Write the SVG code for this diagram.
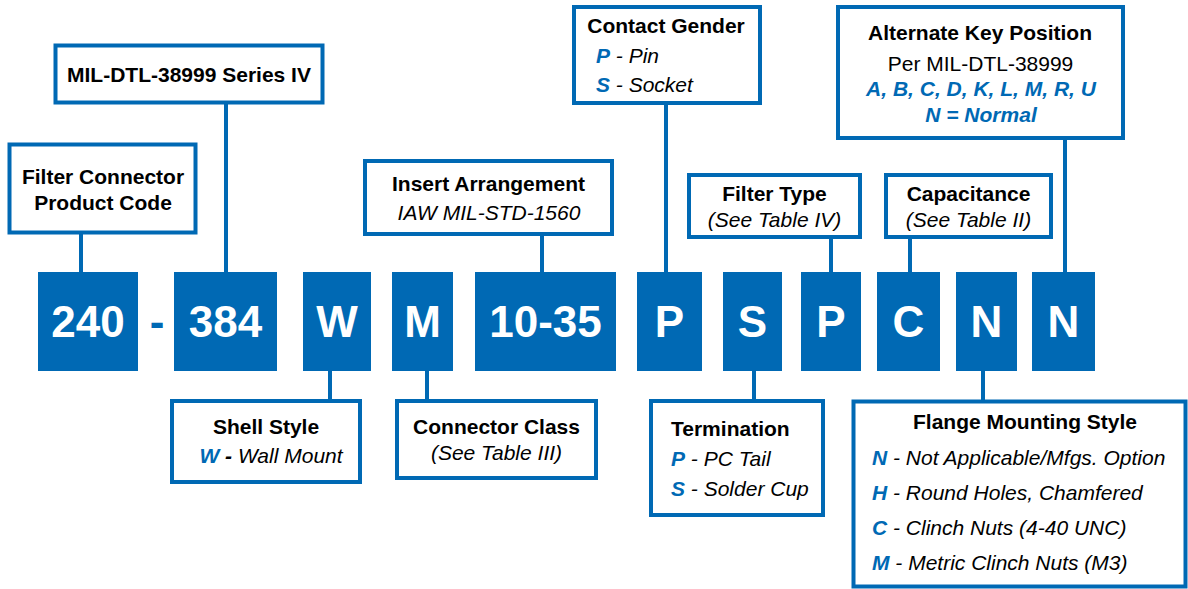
<svg xmlns="http://www.w3.org/2000/svg" width="1188" height="589" viewBox="0 0 1188 589">
<style>
text{font-family:"Liberation Sans",Arial,sans-serif;font-size:21px;fill:#000}
.box{fill:#fff;stroke:#0069B4;stroke-width:4}
.code{fill:#0069B4}
.ct{font-size:44px;font-weight:bold;fill:#fff;text-anchor:middle}
.b{font-weight:bold}
.i{font-style:italic}
.k{font-weight:bold;font-style:italic;fill:#0069B4}
.m{text-anchor:middle}
.conn line{stroke:#0069B4;stroke-width:4}
</style>
<rect width="1188" height="589" fill="#fff"/>
<g class="conn" id="connectors">
<line x1="81" y1="232" x2="81" y2="273"/>
<line x1="226" y1="102" x2="226" y2="273"/>
<line x1="542" y1="234" x2="542" y2="273"/>
<line x1="666" y1="103" x2="666" y2="273"/>
<line x1="831" y1="237" x2="831" y2="273"/>
<line x1="910" y1="237" x2="910" y2="273"/>
<line x1="1065" y1="138" x2="1065" y2="273"/>
<line x1="330" y1="370" x2="330" y2="401"/>
<line x1="427" y1="370" x2="427" y2="401"/>
<line x1="754" y1="370" x2="754" y2="401"/>
<line x1="983" y1="370" x2="983" y2="401"/>
</g>
<g id="code-240"><rect class="code" x="38" y="272" width="100" height="99"/><text class="ct" x="88" y="337">240</text></g>
<g id="code-dash"><text class="ct" x="157" y="337" style="fill:#0069B4">-</text></g>
<g id="code-384"><rect class="code" x="174" y="272" width="103" height="99"/><text class="ct" x="225.5" y="337">384</text></g>
<g id="code-W"><rect class="code" x="303" y="272" width="68" height="99"/><text class="ct" x="337" y="337">W</text></g>
<g id="code-M"><rect class="code" x="392" y="272" width="61" height="99"/><text class="ct" x="422.5" y="337">M</text></g>
<g id="code-1035"><rect class="code" x="475" y="272" width="141" height="99"/><text class="ct" x="545.5" y="337">10-35</text></g>
<g id="code-P1"><rect class="code" x="637" y="272" width="65" height="99"/><text class="ct" x="669.5" y="337">P</text></g>
<g id="code-S"><rect class="code" x="723" y="272" width="59" height="99"/><text class="ct" x="752.5" y="337">S</text></g>
<g id="code-P2"><rect class="code" x="801" y="272" width="60" height="99"/><text class="ct" x="831" y="337">P</text></g>
<g id="code-C"><rect class="code" x="877" y="272" width="63" height="99"/><text class="ct" x="908.5" y="337">C</text></g>
<g id="code-N1"><rect class="code" x="956" y="272" width="61" height="99"/><text class="ct" x="986.5" y="337">N</text></g>
<g id="code-N2"><rect class="code" x="1032" y="272" width="63" height="99"/><text class="ct" x="1063.5" y="337">N</text></g>

<g id="filter-connector"><rect class="box" x="9.5" y="144.5" width="186" height="88"/>
<text class="b m" x="103" y="184">Filter Connector</text><text class="b m" x="103" y="210">Product Code</text></g>
<g id="mil-series"><rect class="box" x="55.5" y="45.5" width="267" height="57"/>
<text class="b m" x="189" y="82">MIL-DTL-38999 Series IV</text></g>
<g id="insert-arrangement"><rect class="box" x="365" y="161" width="247" height="73"/>
<text class="b m" x="488.5" y="191">Insert Arrangement</text><text class="i m" x="489" y="220">IAW MIL-STD-1560</text></g>
<g id="contact-gender"><rect class="box" x="574" y="7" width="186" height="96"/>
<text class="b m" x="666" y="33">Contact Gender</text>
<text x="596" y="63"><tspan class="k">P</tspan><tspan class="i"> - Pin</tspan></text>
<text x="596" y="92"><tspan class="k">S</tspan><tspan class="i"> - Socket</tspan></text></g>
<g id="filter-type"><rect class="box" x="689" y="175" width="171" height="62"/>
<text class="b m" x="774.5" y="201">Filter Type</text><text class="i m" x="774.5" y="227">(See Table IV)</text></g>
<g id="capacitance"><rect class="box" x="886" y="175" width="165" height="62"/>
<text class="b m" x="968.5" y="201">Capacitance</text><text class="i m" x="968.5" y="227">(See Table II)</text></g>
<g id="alternate-key"><rect class="box" x="838" y="7" width="285" height="131"/>
<text class="b m" x="980" y="40">Alternate Key Position</text>
<text class="m" x="980.5" y="71">Per MIL-DTL-38999</text>
<text class="k m" x="981" y="96">A, B, C, D, K, L, M, R, U</text>
<text class="k m" x="981" y="122">N = Normal</text></g>
<g id="shell-style"><rect class="box" x="172" y="401" width="188" height="81"/>
<text class="b m" x="266" y="434">Shell Style</text>
<text class="m" x="271" y="463"><tspan class="k">W</tspan><tspan class="b i"> - </tspan><tspan class="i">Wall Mount</tspan></text></g>
<g id="connector-class"><rect class="box" x="397" y="401" width="199" height="77"/>
<text class="b m" x="496.5" y="434">Connector Class</text><text class="i m" x="496.5" y="460">(See Table III)</text></g>
<g id="termination"><rect class="box" x="651" y="401" width="172" height="114"/>
<text class="b" x="671" y="436">Termination</text>
<text x="671" y="466"><tspan class="k">P</tspan><tspan class="i"> - PC Tail</tspan></text>
<text x="671" y="496"><tspan class="k">S</tspan><tspan class="i"> - Solder Cup</tspan></text></g>
<g id="flange-mounting"><rect class="box" x="853.5" y="401.5" width="332" height="185"/>
<text class="b m" x="1025" y="429">Flange Mounting Style</text>
<text x="872" y="465"><tspan class="k">N</tspan><tspan class="i"> - Not Applicable/Mfgs. Option</tspan></text>
<text x="872" y="500"><tspan class="k">H</tspan><tspan class="i"> - Round Holes, Chamfered</tspan></text>
<text x="872" y="535"><tspan class="k">C</tspan><tspan class="i"> - Clinch Nuts (4-40 UNC)</tspan></text>
<text x="872" y="570"><tspan class="k">M</tspan><tspan class="i"> - Metric Clinch Nuts (M3)</tspan></text></g>
</svg>
